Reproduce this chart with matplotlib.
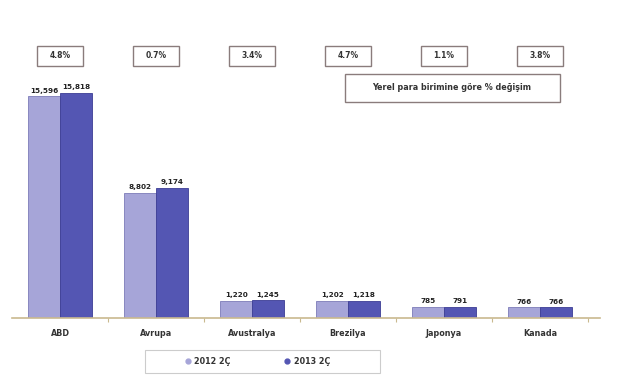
import matplotlib
matplotlib.use('Agg')
import matplotlib.pyplot as plt
import matplotlib.transforms as mtransforms
from matplotlib.patches import Rectangle
from matplotlib.lines import Line2D

plt.rcParams['font.family'] = ['DejaVu Sans']

# --- data ---
categories = ['ABD', 'Avrupa', 'Avustralya', 'Brezilya', 'Japonya', 'Kanada']
q_prev = [15596, 8802, 1220, 1202, 785, 766]
q_curr = [15818, 9174, 1245, 1218, 791, 766]
pct_change = ['4.8%', '0.7%', '3.4%', '4.7%', '1.1%', '3.8%']
series_names = ['2012 2Ç', '2013 2Ç']
note = 'Yerel para birimine göre % değişim'

C_LIGHT = '#a6a5d8'
C_DARK = '#5456b3'
W, H = 618, 379

fig = plt.figure(figsize=(W / 100, H / 100), dpi=100)
fig.patch.set_facecolor('white')
# axes in pixel terms: left 12, right 600, baseline at y=318, top at y=40
ax = fig.add_axes([12 / W, (H - 318) / H, 588 / W, (318 - 40) / H])

x = range(len(categories))
bw = 0.33
xl = [i - bw / 2 for i in x]
xr = [i + bw / 2 for i in x]
ax.bar(xl, q_prev, width=bw, color=C_LIGHT, edgecolor='#7d7cb8', linewidth=0.6)
ax.bar(xr, q_curr, width=bw, color=C_DARK, edgecolor='#3c3d94', linewidth=0.6)

# 6 categories over 576 px -> extend axis a bit to the right like the original
ax.set_xlim(-0.5, len(categories) - 0.5 + 12 / 96)
ax.set_ylim(0, 15818 * 278 / 225)

for xs, vals in [(xl, q_prev), (xr, q_curr)]:
    for xi, v in zip(xs, vals):
        ax.annotate(f'{v:,}', (xi, v), xytext=(0, 1.8), textcoords='offset points',
                    ha='center', va='bottom', fontsize=5.2, fontweight='bold',
                    color='#222222')

# axes styling
for s in ['top', 'right', 'left']:
    ax.spines[s].set_visible(False)
ax.spines['bottom'].set_color('#c9b98f')
ax.spines['bottom'].set_linewidth(1.2)
ax.set_yticks([])
ax.set_xticks([i + 0.5 for i in range(len(categories))])
ax.tick_params(axis='x', length=3, color='#c9b98f', labelbottom=False)
lab_trans = mtransforms.blended_transform_factory(ax.transData, ax.transAxes)
for i, c in enumerate(categories):
    ax.text(i, -0.04, c, transform=lab_trans, ha='center', va='top',
            fontsize=5.8, fontweight='bold', color='#333333')

# percent change boxes above each category
trans = mtransforms.blended_transform_factory(ax.transData, fig.transFigure)
bh = 19 / H
yc = (H - 56) / H
for i, p in enumerate(pct_change):
    ax.add_patch(Rectangle((i - 0.24, yc - bh / 2), 0.48, bh, transform=trans,
                           facecolor='white', edgecolor='#8a7c7c', linewidth=1.0,
                           clip_on=False))
    ax.text(i, yc, p, transform=trans, ha='center', va='center',
            fontsize=5.5, fontweight='bold', color='#333333')

# note box
fig.patches.append(Rectangle((345 / W, (H - 102) / H), 215 / W, 28 / H,
                             transform=fig.transFigure, facecolor='white',
                             edgecolor='#8a7c7c', linewidth=1.0))
fig.text(452 / W, (H - 88) / H, note, ha='center', va='center',
         fontsize=5.8, fontweight='bold', color='#333333')

# legend with its own wide frame
fig.patches.append(Rectangle((145 / W, (H - 373) / H), 235 / W, 23 / H,
                             transform=fig.transFigure, facecolor='white',
                             edgecolor='#cccccc', linewidth=0.8))
handles = [Line2D([], [], marker='o', linestyle='none', markersize=3.5,
                  color=C_LIGHT),
           Line2D([], [], marker='o', linestyle='none', markersize=3.5,
                  color=C_DARK)]
leg = fig.legend(handles, series_names, loc='center',
                 bbox_to_anchor=(257 / W, (H - 361.5) / H), ncol=2,
                 prop={'size': 5.8, 'weight': 'bold'}, frameon=False,
                 columnspacing=6.5, handletextpad=0.3, handlelength=1.0)
for t in leg.get_texts():
    t.set_color('#333333')

fig.savefig('out.png', dpi=100)
